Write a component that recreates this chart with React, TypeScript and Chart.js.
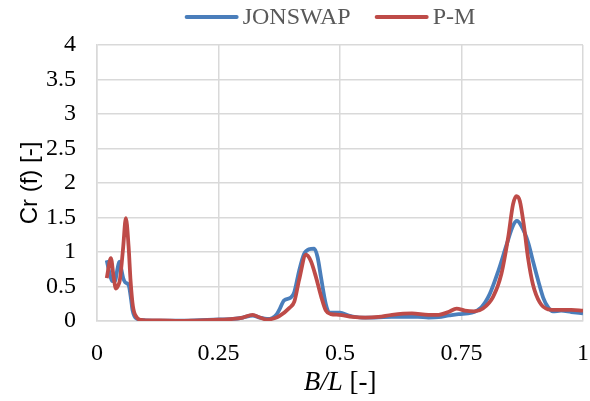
import React, { useEffect, useRef } from "react";
import { Chart, registerables } from "chart.js";

Chart.register(...registerables);

// ---- data ----
const seriesLabels = ["JONSWAP", "P-M"];
const seriesColors = ["#4A7EBB", "#BE4B48"];

const jonswapX = [
  0.02, 0.025, 0.031, 0.037, 0.042, 0.046, 0.05, 0.054, 0.058, 0.063, 0.066, 0.07, 0.073, 0.077, 0.083, 0.09,
  0.1, 0.13, 0.16, 0.2, 0.24, 0.28, 0.3, 0.32, 0.335, 0.35, 0.36, 0.37, 0.375, 0.385, 0.399, 0.406, 0.416,
  0.426, 0.436, 0.447, 0.454, 0.461, 0.471, 0.478, 0.49, 0.5, 0.518, 0.545, 0.572, 0.607, 0.634, 0.66, 0.682,
  0.703, 0.724, 0.744, 0.771, 0.791, 0.808, 0.826, 0.843, 0.856, 0.864, 0.873, 0.887, 0.897, 0.908, 0.918,
  0.928, 0.938, 0.955, 0.976, 1.0,
];
const jonswapY = [
  0.88, 0.72, 0.58, 0.58, 0.75, 0.86, 0.75, 0.62, 0.56, 0.54, 0.5, 0.32, 0.16, 0.07, 0.03, 0.015,
  0.01, 0.005, 0.005, 0.01, 0.02, 0.03, 0.05, 0.08, 0.05, 0.03, 0.04, 0.1, 0.16, 0.3, 0.34, 0.42, 0.73,
  0.97, 1.04, 1.05, 0.92, 0.63, 0.24, 0.12, 0.12, 0.12, 0.08, 0.05, 0.05, 0.06, 0.06, 0.06, 0.05,
  0.055, 0.08, 0.1, 0.12, 0.2, 0.39, 0.73, 1.11, 1.38, 1.45, 1.38, 1.14, 0.87, 0.58, 0.34,
  0.2, 0.14, 0.15, 0.13, 0.11,
];

const pmX = [
  0.02, 0.0286, 0.034, 0.039, 0.044, 0.047, 0.051, 0.054, 0.0594, 0.065, 0.069, 0.074, 0.082, 0.091,
  0.1, 0.13, 0.17, 0.2, 0.24, 0.28, 0.3, 0.32, 0.335, 0.35, 0.365, 0.375, 0.396, 0.406, 0.416, 0.43, 0.44,
  0.45, 0.461, 0.471, 0.481, 0.498, 0.525, 0.552, 0.579, 0.607, 0.648, 0.682, 0.703, 0.723, 0.74, 0.757,
  0.777, 0.794, 0.815, 0.832, 0.846, 0.856, 0.863, 0.87, 0.879, 0.887, 0.897, 0.911, 0.928, 0.948, 0.976, 1.0,
];
const pmY = [
  0.62, 0.91, 0.65, 0.47, 0.52, 0.59, 0.85, 1.08, 1.49, 1.08, 0.59, 0.21, 0.05, 0.015,
  0.01, 0.01, 0.0, 0.005, 0.015, 0.03, 0.05, 0.09, 0.05, 0.02, 0.04, 0.07, 0.19, 0.28, 0.6, 0.96, 0.87,
  0.65, 0.36, 0.15, 0.1, 0.09, 0.06, 0.05, 0.06, 0.09, 0.11, 0.09, 0.09, 0.13, 0.18, 0.15,
  0.14, 0.18, 0.35, 0.68, 1.21, 1.69, 1.81, 1.74, 1.35, 0.91, 0.53, 0.27, 0.17, 0.16, 0.16, 0.15,
];

const xTitleItalic = "B/L";
const xTitleRest = " [-]";
const yTitle = "Cr (f) [-]";

const SERIF = '"Liberation Serif", "Times New Roman", serif';
const SANS = '"Liberation Sans", Arial, sans-serif';

const customLegend = {
  id: "customLegend",
  afterDraw(chart: any) {
    const ctx = chart.ctx;
    ctx.save();
    ctx.font = `24px ${SERIF}`;
    const items = chart.data.datasets.map((ds: any) => ({
      text: ds.label,
      color: ds.borderColor,
      w: ctx.measureText(ds.label).width,
    }));
    const lineLen = 54;
    const gap1 = 4;
    const gap2 = 24;
    const total = items.reduce((s: number, it: any) => s + lineLen + gap1 + it.w, 0) + gap2 * (items.length - 1);
    let x = chart.width / 2 + 35 - total / 2;
    const y = 17;
    items.forEach((it: any) => {
      ctx.strokeStyle = it.color;
      ctx.lineWidth = 4;
      ctx.lineCap = "round";
      ctx.beginPath();
      ctx.moveTo(x + 2, y);
      ctx.lineTo(x + lineLen - 2, y);
      ctx.stroke();
      x += lineLen + gap1;
      ctx.fillStyle = "#595959";
      ctx.textBaseline = "middle";
      ctx.textAlign = "left";
      ctx.fillText(it.text, x, y + 1);
      x += it.w + gap2;
    });
    ctx.restore();
  },
};

const xTitlePlugin = {
  id: "xTitlePlugin",
  afterDraw(chart: any) {
    const { ctx, chartArea } = chart;
    ctx.save();
    const cx = (chartArea.left + chartArea.right) / 2;
    const y = 383;
    const size = 27;
    ctx.font = `italic ${size}px ${SERIF}`;
    const w1 = ctx.measureText(xTitleItalic).width;
    ctx.font = `${size}px ${SERIF}`;
    const w2 = ctx.measureText(xTitleRest).width;
    let x = cx - (w1 + w2) / 2;
    ctx.fillStyle = "#000";
    ctx.textBaseline = "middle";
    ctx.textAlign = "left";
    ctx.font = `italic ${size}px ${SERIF}`;
    ctx.fillText(xTitleItalic, x, y);
    x += w1;
    ctx.font = `${size}px ${SERIF}`;
    ctx.fillText(xTitleRest, x, y);
    ctx.restore();
  },
};

export default function App() {
  const ref = useRef<HTMLCanvasElement | null>(null);

  useEffect(() => {
    if (!ref.current) return;
    const gridColor = "#D9D9D9";
    const chart = new Chart(ref.current, {
      type: "line",
      data: {
        datasets: [
          {
            label: seriesLabels[0],
            data: jonswapX.map((x, i) => ({ x, y: jonswapY[i] })),
            borderColor: seriesColors[0],
            backgroundColor: seriesColors[0],
            borderWidth: 3.8,
            pointRadius: 0,
            cubicInterpolationMode: "monotone",
            fill: false,
            order: 1,
          },
          {
            label: seriesLabels[1],
            data: pmX.map((x, i) => ({ x, y: pmY[i] })),
            borderColor: seriesColors[1],
            backgroundColor: seriesColors[1],
            borderWidth: 3.8,
            pointRadius: 0,
            cubicInterpolationMode: "monotone",
            fill: false,
            order: 0,
          },
        ],
      },
      options: {
        animation: false,
        responsive: false,
        layout: { padding: { top: 45, right: 7, left: 0, bottom: 0 } },
        plugins: {
          legend: { display: false },
          tooltip: { enabled: false },
        },
        scales: {
          x: {
            type: "linear",
            min: 0,
            max: 1,
            afterFit: (s: any) => {
              s.height = 80;
              s.paddingRight = 7;
              s.paddingLeft = 6;
            },
            ticks: {
              stepSize: 0.25,
              padding: 18,
              color: "#000",
              font: { family: SERIF, size: 24 },
              maxRotation: 0,
              callback: (v: any) => String(v),
            },
            grid: { color: gridColor, lineWidth: 1.5, drawTicks: false },
            border: { color: gridColor, width: 1.5 },
          },
          y: {
            type: "linear",
            min: 0,
            max: 4,
            afterFit: (s: any) => {
              s.width = 97;
            },
            ticks: {
              stepSize: 0.5,
              padding: 21,
              color: "#000",
              font: { family: SERIF, size: 24 },
              callback: (v: any) => String(v),
            },
            grid: { color: gridColor, lineWidth: 1.5, drawTicks: false },
            border: { color: gridColor, width: 1.5 },
            title: {
              display: true,
              text: yTitle,
              color: "#000",
              font: { family: SANS, size: 24 },
              padding: { top: 16, bottom: 0 },
            },
          },
        },
      },
      plugins: [customLegend, xTitlePlugin],
    } as any);
    return () => chart.destroy();
  }, []);

  return (
    <div style={{ position: "absolute", left: 0, top: 0, width: 590, height: 401, background: "#fff" }}>
      <canvas ref={ref} width={590} height={401} style={{ display: "block" }} />
    </div>
  );
}
